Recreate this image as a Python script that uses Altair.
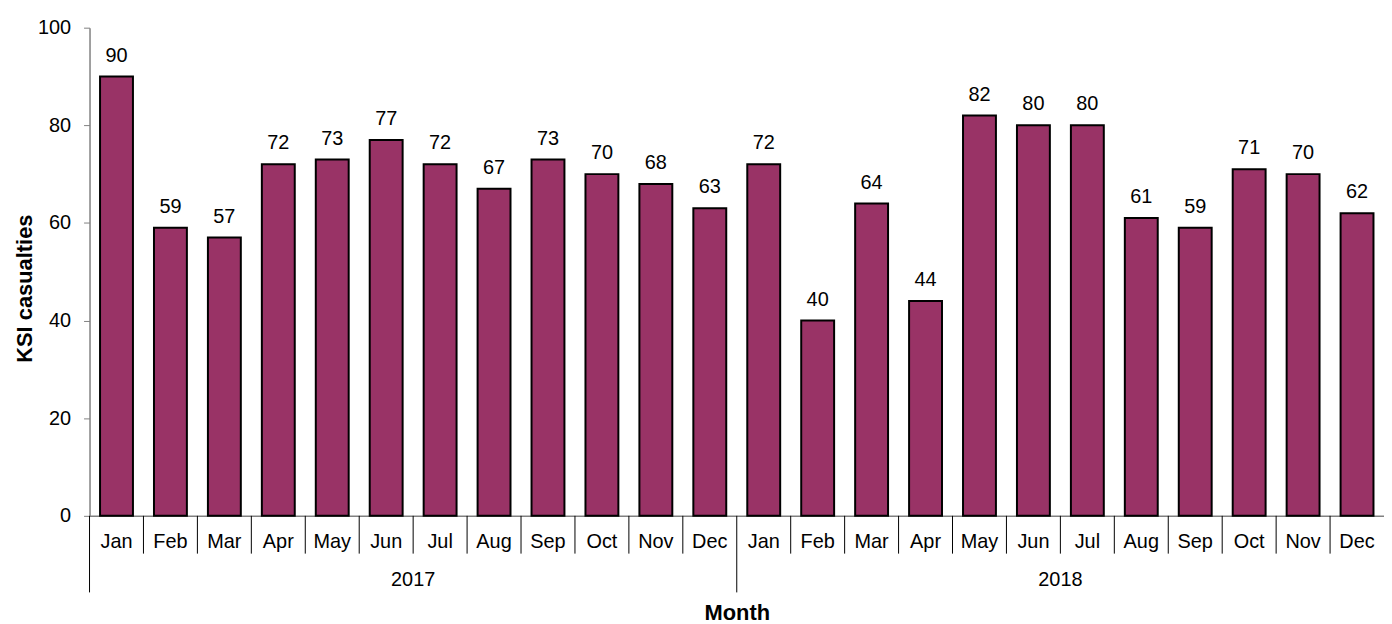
import altair as alt
import pandas as pd

months = ["Jan", "Feb", "Mar", "Apr", "May", "Jun", "Jul", "Aug", "Sep", "Oct", "Nov", "Dec"]
years = ["2017", "2018"]
values_2017 = [90, 59, 57, 72, 73, 77, 72, 67, 73, 70, 68, 63]
values_2018 = [72, 40, 64, 44, 82, 80, 80, 61, 59, 71, 70, 62]
y_ticks = [0, 20, 40, 60, 80, 100]

rows = []
for yr, vals in zip(years, [values_2017, values_2018]):
    for m, v in zip(months, vals):
        rows.append({"key": f"{yr}-{m}", "year": yr, "month": m, "value": v})
df = pd.DataFrame(rows)
keys = list(df["key"])

W, H = 1302, 491
FONT = "Liberation Sans"

xscale = alt.Scale(paddingInner=0, paddingOuter=0)
x_enc = alt.X(
    "key:N", sort=keys, scale=xscale,
    axis=alt.Axis(labels=False, ticks=False, domainColor="#808080", domainWidth=1.5,
                  title="Month", titleFontSize=22, titleFontWeight="bold",
                  titleY=104, titleBaseline="alphabetic", titleColor="black"),
)
y_enc = alt.Y(
    "value:Q", scale=alt.Scale(domain=[0, 100]),
    axis=alt.Axis(values=y_ticks, grid=False, tickSize=6, tickColor="#808080",
                  domainColor="#808080", domainWidth=1.5, labelFontSize=20,
                  labelColor="black", labelPadding=13,
                  title="KSI casualties", titleFontSize=22, titleFontWeight="bold",
                  titleAngle=270, titleBaseline="alphabetic", titleX=-58, titleY=262,
                  titleColor="black"),
)

base = alt.Chart(df)

bars = base.mark_bar(color="#993366", stroke="black", strokeWidth=2,
                     width=alt.RelativeBandSize(0.61)).encode(x=x_enc, y=y_enc)

value_labels = base.mark_text(dy=-15, baseline="alphabetic", fontSize=20, color="black").encode(
    x=alt.X("key:N", sort=keys), y="value:Q", text="value:Q")

month_labels = base.mark_text(baseline="alphabetic", fontSize=20, color="black").encode(
    x=alt.X("key:N", sort=keys), y=alt.value(523), text="month:N")

month_seps = base.transform_filter(alt.datum.month != "Jan").mark_rule(
    color="black", strokeWidth=1).encode(
    x=alt.X("key:N", sort=keys, bandPosition=0), y=alt.value(H), y2=alt.value(529))

year_seps = base.transform_filter(alt.datum.month == "Jan").mark_rule(
    color="black", strokeWidth=1).encode(
    x=alt.X("key:N", sort=keys, bandPosition=0), y=alt.value(H), y2=alt.value(568))

year_labels = base.transform_filter(alt.datum.month == "Jul").mark_text(
    baseline="alphabetic", fontSize=20, color="black").encode(
    x=alt.X("key:N", sort=keys, bandPosition=0), y=alt.value(562), text="year:N")

chart = alt.layer(bars, value_labels, month_labels, month_seps, year_seps, year_labels).properties(
    width=W, height=H,
    autosize=alt.AutoSizeParams(type="none"),
    padding={"left": 82, "top": 18, "right": 0, "bottom": 107},
).configure(font=FONT).configure_view(stroke=None)

chart.save("out.html", embed_options={"renderer": "svg", "actions": False})
